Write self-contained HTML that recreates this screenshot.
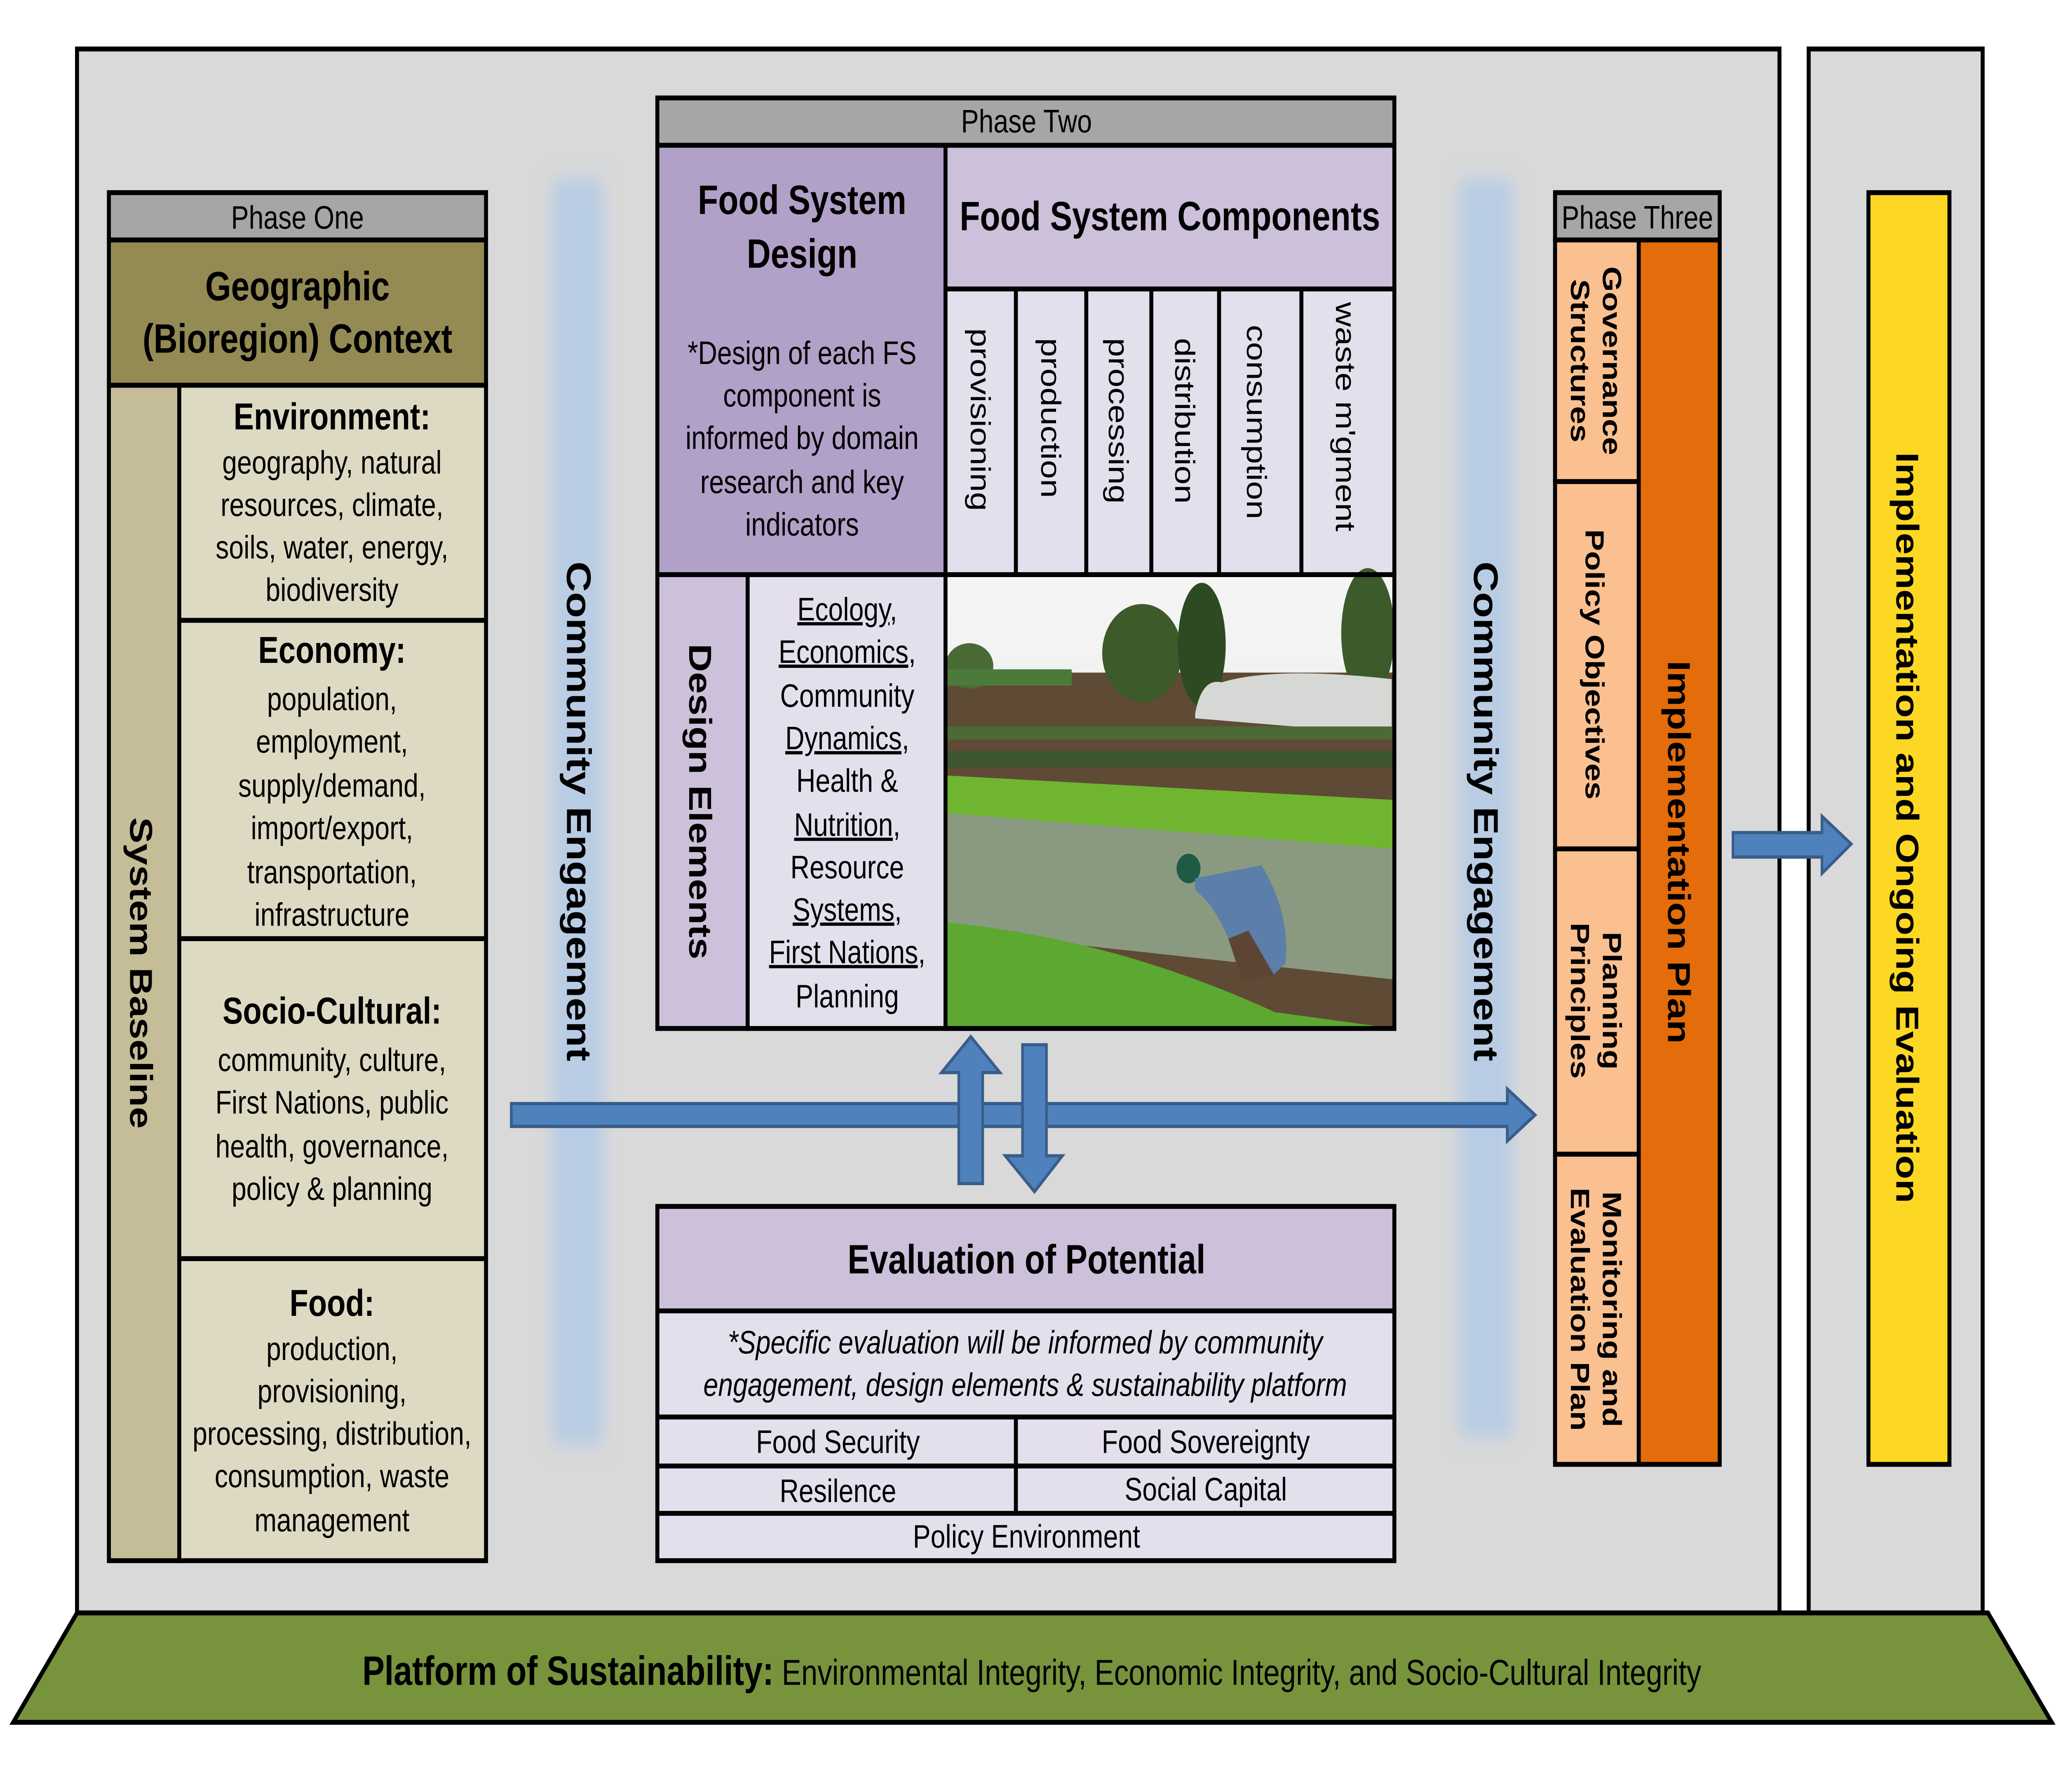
<!DOCTYPE html>
<html><head><meta charset="utf-8"><style>html,body{margin:0;padding:0;background:#fff;width:100%;height:100%;overflow:hidden}svg{display:block;position:absolute;left:0;top:0;width:100vw;height:100vh}</style></head><body>
<svg xmlns="http://www.w3.org/2000/svg" viewBox="0 0 1552 1097.7" preserveAspectRatio="none" font-family="Liberation Sans, sans-serif">
<defs>
<filter id="bl" x="-50%" y="-10%" width="200%" height="120%"><feGaussianBlur stdDeviation="6"/></filter>
<linearGradient id="sky" x1="0" y1="0" x2="0" y2="1"><stop offset="0" stop-color="#f4f5f4"/><stop offset="1" stop-color="#e6e9e6"/></linearGradient>
</defs>
<rect width="1552" height="1098" fill="#fff"/>
<rect x="58" y="30" width="1282" height="958" fill="#d9d9d9" stroke="#000" stroke-width="3"/>
<rect x="1362" y="30" width="131" height="958" fill="#d9d9d9" stroke="#000" stroke-width="3"/>
<polygon points="58,988 1497,988 1545,1055 10,1055" fill="#77933c" stroke="#000" stroke-width="3"/>
<text x="777" y="1032" font-size="22" text-anchor="middle"><tspan font-weight="bold" font-size="25">Platform of Sustainability:</tspan> Environmental Integrity, Economic Integrity, and Socio-Cultural Integrity</text>
<rect x="416" y="110" width="38" height="775" fill="#b8cce4" filter="url(#bl)"/>
<rect x="1099" y="110" width="40" height="770" fill="#b8cce4" filter="url(#bl)"/>
<text transform="translate(427,497) rotate(90)" font-size="26" font-weight="bold" text-anchor="middle">Community Engagement</text>
<text transform="translate(1110,497) rotate(90)" font-size="26" font-weight="bold" text-anchor="middle">Community Engagement</text>
<g stroke="#000" stroke-width="3">
<rect x="82" y="118" width="284" height="29" fill="#a6a6a6"/>
<rect x="82" y="147" width="284" height="89" fill="#948a54"/>
<rect x="82" y="236" width="53" height="720" fill="#c4bd97"/>
<rect x="135" y="236" width="231" height="144" fill="#ddd9c3"/>
<rect x="135" y="380" width="231" height="195" fill="#ddd9c3"/>
<rect x="135" y="575" width="231" height="196" fill="#ddd9c3"/>
<rect x="135" y="771" width="231" height="185" fill="#ddd9c3"/>
</g>
<text x="224" y="140" font-size="20" text-anchor="middle">Phase One</text>
<text x="224" y="184" font-size="25" font-weight="bold" text-anchor="middle">Geographic</text>
<text x="224" y="216" font-size="25" font-weight="bold" text-anchor="middle">(Bioregion) Context</text>
<text transform="translate(98,596) rotate(90)" font-size="24" font-weight="bold" text-anchor="middle">System Baseline</text>
<g font-size="20" text-anchor="middle">
<text x="250" y="263" font-size="23" font-weight="bold">Environment:</text>
<text x="250" y="290">geography, natural</text><text x="250" y="316">resources, climate,</text><text x="250" y="342">soils, water, energy,</text><text x="250" y="368">biodiversity</text>
<text x="250" y="406" font-size="23" font-weight="bold">Economy:</text>
<text x="250" y="435">population,</text><text x="250" y="461">employment,</text><text x="250" y="488">supply/demand,</text><text x="250" y="514">import/export,</text><text x="250" y="541">transportation,</text><text x="250" y="567">infrastructure</text>
<text x="250" y="627" font-size="23" font-weight="bold">Socio-Cultural:</text>
<text x="250" y="656">community, culture,</text><text x="250" y="682">First Nations, public</text><text x="250" y="709">health, governance,</text><text x="250" y="735">policy &amp; planning</text>
<text x="250" y="806" font-size="23" font-weight="bold">Food:</text>
<text x="250" y="833">production,</text><text x="250" y="859">provisioning,</text><text x="250" y="885">processing, distribution,</text><text x="250" y="911">consumption, waste</text><text x="250" y="938">management</text>
</g>
<g stroke="#000" stroke-width="3">
<rect x="495" y="60" width="555" height="29" fill="#a6a6a6"/>
<rect x="495" y="89" width="217" height="263" fill="#b1a0c7"/>
<rect x="712" y="89" width="338" height="88" fill="#ccc0da"/>
<rect x="712" y="177" width="338" height="175" fill="#e4dfec"/>
<line x1="765" y1="177" x2="765" y2="352"/><line x1="818" y1="177" x2="818" y2="352"/><line x1="867" y1="177" x2="867" y2="352"/><line x1="918" y1="177" x2="918" y2="352"/><line x1="980" y1="177" x2="980" y2="352"/>
<rect x="495" y="352" width="68" height="278" fill="#ccc0da"/>
<rect x="563" y="352" width="149" height="278" fill="#e4dfec"/>
</g>
<text x="773" y="81" font-size="20" text-anchor="middle">Phase Two</text>
<text x="604" y="131" font-size="25" font-weight="bold" text-anchor="middle">Food System</text>
<text x="604" y="164" font-size="25" font-weight="bold" text-anchor="middle">Design</text>
<g font-size="20" text-anchor="middle">
<text x="604" y="223">*Design of each FS</text><text x="604" y="249">component is</text><text x="604" y="275">informed by domain</text><text x="604" y="302">research and key</text><text x="604" y="328">indicators</text>
</g>
<text x="881" y="141" font-size="25" font-weight="bold" text-anchor="middle">Food System Components</text>
<g font-size="21">
<text transform="translate(731,201) rotate(90)">provisioning</text>
<text transform="translate(784,207) rotate(90)">production</text>
<text transform="translate(835,207) rotate(90)">processing</text>
<text transform="translate(885,207) rotate(90)">distribution</text>
<text transform="translate(939,199) rotate(90)">consumption</text>
<text transform="translate(1006,185) rotate(90)">waste m'gment</text>
</g>
<text transform="translate(519,491) rotate(90)" font-size="24" font-weight="bold" text-anchor="middle">Design Elements</text>
<g font-size="20" text-anchor="middle">
<text x="638" y="380" text-decoration="underline">Ecology,</text>
<text x="638" y="406" text-decoration="underline">Economics,</text>
<text x="638" y="433">Community</text>
<text x="638" y="459" text-decoration="underline">Dynamics,</text>
<text x="638" y="485">Health &amp;</text>
<text x="638" y="512" text-decoration="underline">Nutrition,</text>
<text x="638" y="538">Resource</text>
<text x="638" y="564" text-decoration="underline">Systems,</text>
<text x="638" y="590" text-decoration="underline">First Nations,</text>
<text x="638" y="617">Planning</text>
</g>
<g>
<rect x="712" y="352" width="338" height="278" fill="url(#sky)"/>
<rect x="712" y="412" width="338" height="218" fill="#5f4a35"/>
<ellipse cx="860" cy="400" rx="30" ry="30" fill="#3d5a2a"/>
<ellipse cx="905" cy="395" rx="18" ry="38" fill="#2e4a22"/>
<ellipse cx="1030" cy="388" rx="20" ry="40" fill="#3d5a2a"/>
<ellipse cx="730" cy="408" rx="18" ry="14" fill="#4a6a35"/>
<rect x="712" y="410" width="95" height="10" fill="#4c7a3a"/>
<path d="M900,437 Q905,415 920,418 Q960,408 1048,416 L1048,450 L900,440 Z" fill="#d6d8d6"/>
<rect x="712" y="445" width="338" height="8" fill="#4b6a35"/>
<rect x="712" y="460" width="338" height="10" fill="#3d5530"/>
<path d="M712,475 L1050,490 L1050,520 L712,500 Z" fill="#6fb530"/>
<path d="M712,498 L1050,520 L1050,600 L712,570 Z" fill="#8a9a80"/>
<path d="M712,565 Q840,575 960,620 L1050,630 L712,630 Z" fill="#5ca830"/>
<circle cx="895" cy="532" r="9" fill="#1e5a44"/>
<path d="M900,538 L950,530 Q972,560 968,590 L958,598 L940,570 L925,575 Q915,555 900,545 Z" fill="#5b7fa8"/>
<path d="M925,575 L940,570 L960,598 L935,600 Z" fill="#5d4535"/>
</g>
<rect x="712" y="352" width="338" height="278" fill="none" stroke="#000" stroke-width="3"/>
<g stroke="#000" stroke-width="3">
<rect x="495" y="739" width="555" height="64" fill="#ccc0da"/>
<rect x="495" y="803" width="555" height="65" fill="#e4dfec"/>
<rect x="495" y="868" width="555" height="88" fill="#e4dfec"/>
<line x1="495" y1="898" x2="1050" y2="898"/><line x1="495" y1="927" x2="1050" y2="927"/>
<line x1="765" y1="868" x2="765" y2="927"/>
</g>
<text x="773" y="780" font-size="25" font-weight="bold" text-anchor="middle">Evaluation of Potential</text>
<g font-size="20" text-anchor="middle">
<text x="772" y="829" font-style="italic">*Specific evaluation will be informed by community</text>
<text x="772" y="855" font-style="italic">engagement, design elements &amp; sustainability platform</text>
<text x="631" y="890">Food Security</text><text x="908" y="890">Food Sovereignty</text>
<text x="631" y="920">Resilence</text><text x="908" y="919">Social Capital</text>
<text x="773" y="948">Policy Environment</text>
</g>
<g fill="#4f81bd" stroke="#385d8a" stroke-width="2">
<polygon points="385,676 1135,676 1135,667 1156,683 1135,699 1135,690 385,690"/>
<polygon points="722,725 722,657 709,657 731,635 753,657 740,657 740,725"/>
<polygon points="770,640 788,640 788,708 800,708 779,730 757,708 770,708"/>
<polygon points="1305,510 1372,510 1372,500 1394,517 1372,535 1372,525 1305,525"/>
</g>
<g stroke="#000" stroke-width="3">
<rect x="1171" y="118" width="124" height="29" fill="#a6a6a6"/>
<rect x="1234" y="147" width="61" height="750" fill="#e46c0a"/>
<rect x="1171" y="147" width="63" height="148" fill="#fac090"/>
<rect x="1171" y="295" width="63" height="225" fill="#fac090"/>
<rect x="1171" y="520" width="63" height="187" fill="#fac090"/>
<rect x="1171" y="707" width="63" height="190" fill="#fac090"/>
<rect x="1407" y="118" width="61" height="779" fill="#fcd824"/>
</g>
<text x="1233" y="140" font-size="20" text-anchor="middle">Phase Three</text>
<g font-size="20" font-weight="bold" text-anchor="middle">
<text transform="translate(1207,221) rotate(90)">Governance</text>
<text transform="translate(1183,221) rotate(90)">Structures</text>
<text transform="translate(1194,407) rotate(90)">Policy Objectives</text>
<text transform="translate(1207,613) rotate(90)">Planning</text>
<text transform="translate(1183,613) rotate(90)">Principles</text>
<text transform="translate(1207,802) rotate(90)">Monitoring and</text>
<text transform="translate(1183,802) rotate(90)">Evaluation Plan</text>
<text transform="translate(1256,522) rotate(90)" font-size="24">Implementation Plan</text>
<text transform="translate(1428,507) rotate(90)" font-size="24">Implementation and Ongoing Evaluation</text>
</g>
</svg>
</body></html>
